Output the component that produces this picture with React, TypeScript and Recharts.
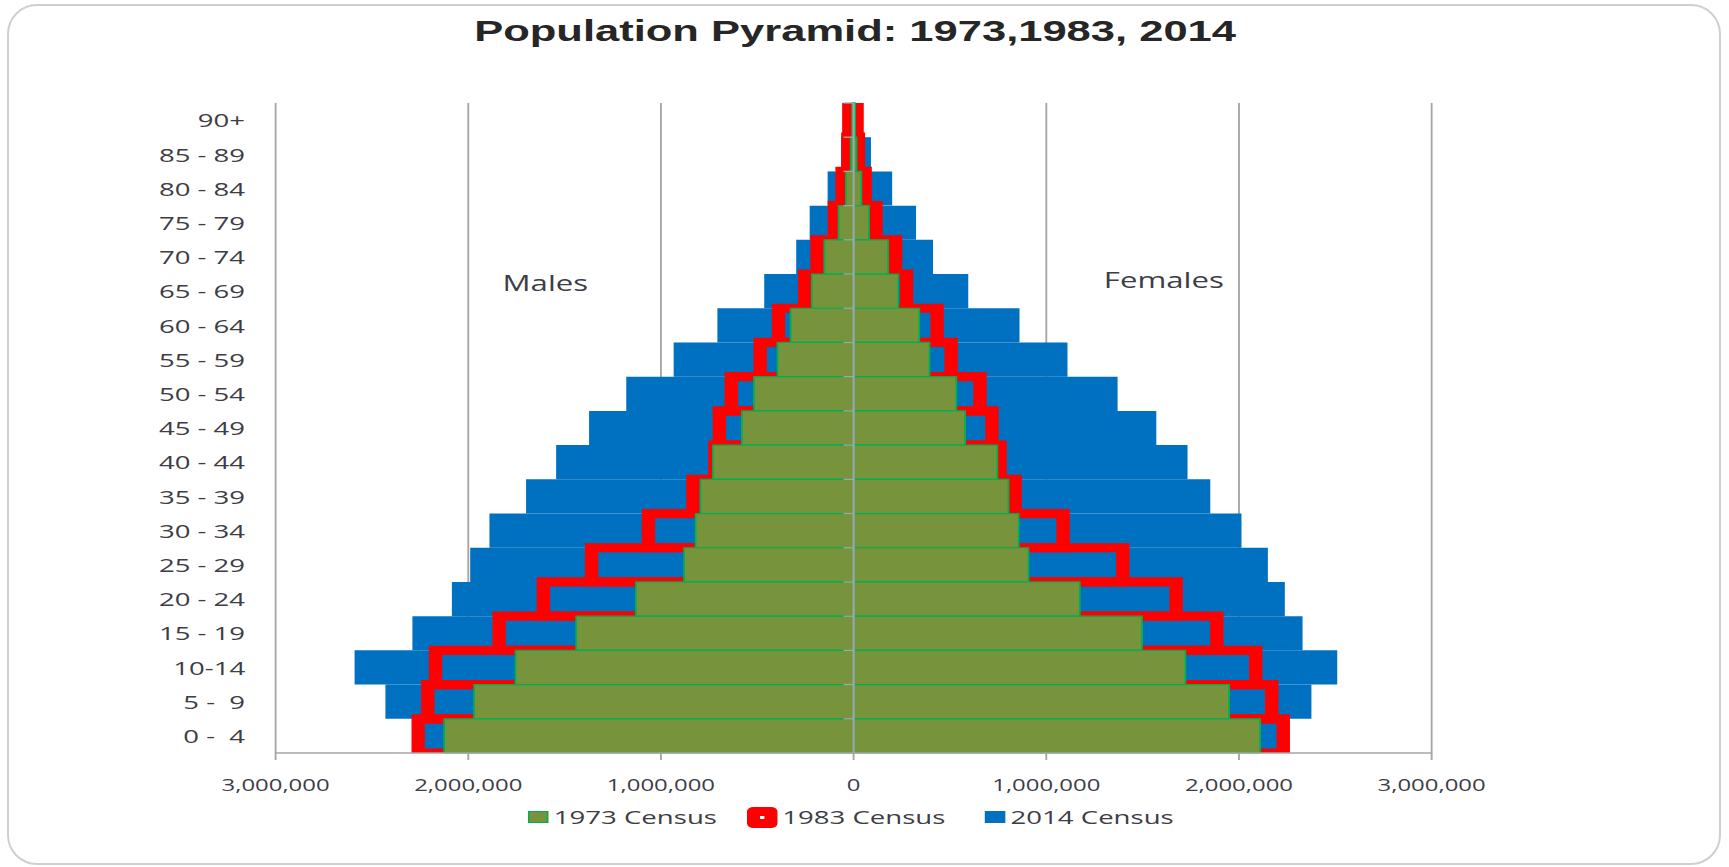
import React from "react";
import {
  Bar,
  BarChart,
  CartesianGrid,
  ReferenceDot,
  ReferenceLine,
  XAxis,
  YAxis,
} from "recharts";

const ages = [
  "90+", "85 - 89", "80 - 84", "75 - 79", "70 - 74", "65 - 69", "60 - 64",
  "55 - 59", "50 - 54", "45 - 49", "40 - 44", "35 - 39", "30 - 34", "25 - 29",
  "20 - 24", "15 - 19", "10-14", "5 -  9", "0 -  4",
];

const male1973 = [8000, 15000, 40000, 78000, 152000, 217000, 327000, 395000, 517000, 580000, 730000, 795000, 820000, 880000, 1130000, 1440000, 1755000, 1970000, 2125000];
const male1983 = [25000, 30000, 60000, 100000, 190000, 254000, 390000, 485000, 635000, 697000, 720000, 834000, 1065000, 1360000, 1610000, 1840000, 2170000, 2210000, 2260000];
const male2014 = [20000, 65000, 135000, 228000, 298000, 464000, 707000, 934000, 1180000, 1373000, 1544000, 1700000, 1890000, 1990000, 2085000, 2290000, 2590000, 2430000, 2250000];

const female1973 = [8000, 15000, 40000, 80000, 179000, 232000, 341000, 394000, 533000, 579000, 746000, 804000, 857000, 908000, 1174000, 1497000, 1722000, 1949000, 2110000];
const female1983 = [18000, 25000, 60000, 116000, 218000, 275000, 433000, 506000, 656000, 718000, 760000, 838000, 1087000, 1397000, 1674000, 1885000, 2087000, 2170000, 2230000];
const female2014 = [30000, 90000, 200000, 324000, 412000, 595000, 861000, 1110000, 1370000, 1571000, 1733000, 1851000, 2013000, 2150000, 2238000, 2330000, 2510000, 2376000, 2200000];

const xTicks = [-3000000, -2000000, -1000000, 0, 1000000, 2000000, 3000000];

// males go left, so they are negative
const data = ages.map((age, i) => ({
  age,
  m1973: -male1973[i],
  f1973: female1973[i],
  m1983: -male1983[i],
  f1983: female1983[i],
  m2014: -male2014[i],
  f2014: female2014[i],
}));

// the original picture is stretched sideways, so draw narrow and scale it
const W = 1192;
const H = 867;
const SX = 1729 / W;
const MARGIN = { top: 103, right: 205, bottom: 84, left: 70 };
const Y_W = 120;
const PLOT_W = W - MARGIN.left - Y_W - MARGIN.right;
const PLOT_H = H - MARGIN.top - MARGIN.bottom - 30;
const CX = MARGIN.left + Y_W + PLOT_W / 2;
const BAND = PLOT_H / ages.length;
const BAR = BAND - 0.01;

const FONT = "'Open Sans', 'Noto Sans', sans-serif";
const TEXT = "#3d3d46";
const GRID = "#a6a6a6";

const AgeTick = (props: any) => {
  const { x, y, payload } = props;
  return (
    <g>
      <text
        x={x}
        y={y}
        textAnchor="end"
        dominantBaseline="central"
        fill={TEXT}
        fontSize={19}
        fontFamily={FONT}
        style={{ whiteSpace: "pre" }}
      >
        {payload.value}
      </text>
      <line
        x1={CX - 7}
        x2={CX}
        y1={y - BAND / 2}
        y2={y - BAND / 2}
        stroke={GRID}
        strokeWidth={1.3}
      />
    </g>
  );
};

const LegendBox = ({ kind }: { kind: string }) => {
  if (kind === "1983") {
    return (
      <svg width={23} height={23} style={{ marginRight: 2 }}>
        <rect x={5.5} y={5.5} width={12} height={12} fill="none" stroke="#ff0000" strokeWidth={9} strokeLinejoin="round" />
      </svg>
    );
  }
  const fill = kind === "1973" ? "#77933c" : "#0070c0";
  const border = kind === "1973" ? "#00b050" : "#0070c0";
  return (
    <span
      style={{
        display: "inline-block",
        width: 14,
        height: 12,
        boxSizing: "border-box",
        background: fill,
        border: `1px solid ${border}`,
        marginRight: 4,
      }}
    />
  );
};

export default function App() {
  return (
    <div style={{ position: "absolute", left: 0, top: 0, width: 1729, height: 867, background: "#fff" }}>
      <div
        style={{
          position: "absolute",
          left: 7,
          top: 4,
          width: 1714,
          height: 861,
          boxSizing: "border-box",
          border: "2px solid #cfcfcf",
          borderRadius: 30,
        }}
      />
      <div
        style={{
          position: "absolute",
          left: 0,
          top: 0,
          width: W,
          height: H,
          transform: `scaleX(${SX})`,
          transformOrigin: "0 0",
        }}
      >
        <div
          style={{
            position: "absolute",
            left: 0,
            top: 16,
            width: 2 * CX + 2,
            textAlign: "center",
            fontFamily: "'Liberation Sans', Arial, sans-serif",
            fontWeight: "bold",
            fontSize: 30,
            lineHeight: "30px",
            color: "#262626",
          }}
        >
          Population Pyramid: 1973,1983, 2014
        </div>

        <BarChart
          width={W}
          height={H}
          data={data}
          layout="vertical"
          margin={MARGIN}
          barCategoryGap={0}
          barGap={0}
          stackOffset="sign"
        >
          <CartesianGrid yAxisId="a" horizontal={false} stroke={GRID} strokeWidth={1.3} />
          <XAxis
            type="number"
            domain={[-3000000, 3000000]}
            allowDataOverflow
            ticks={xTicks}
            interval={0}
            tickSize={7}
            tickMargin={19}
            axisLine={{ stroke: GRID, strokeWidth: 1.3 }}
            tickLine={{ stroke: GRID, strokeWidth: 1.3 }}
            tick={{ fill: TEXT, fontSize: 16.5, fontFamily: FONT }}
            tickFormatter={(v: number) => Math.abs(v).toLocaleString("en-US")}
          />
          <YAxis
            yAxisId="a"
            type="category"
            dataKey="age"
            width={Y_W}
            interval={0}
            axisLine={false}
            tickLine={false}
            tickSize={0}
            tickMargin={21}
            tick={<AgeTick />}
          />
          <YAxis yAxisId="b" type="category" dataKey="age" allowDataOverflow hide />
          <YAxis yAxisId="c" type="category" dataKey="age" hide />

          <Bar yAxisId="c" dataKey="m2014" stackId="s2014" barSize={BAR} fill="#0070c0" isAnimationActive={false} />
          <Bar yAxisId="c" dataKey="f2014" stackId="s2014" barSize={BAR} fill="#0070c0" isAnimationActive={false} />

          <Bar yAxisId="b" dataKey="m1983" stackId="s1983" barSize={BAR} fill="none" stroke="#ff0000" strokeWidth={9.2} isAnimationActive={false} />
          <Bar yAxisId="b" dataKey="f1983" stackId="s1983" barSize={BAR} fill="none" stroke="#ff0000" strokeWidth={9.2} isAnimationActive={false} />

          <Bar yAxisId="a" dataKey="m1973" stackId="s1973" barSize={BAR} fill="#77933c" stroke="#00b050" strokeWidth={1.2} isAnimationActive={false} />
          <Bar yAxisId="a" dataKey="f1973" stackId="s1973" barSize={BAR} fill="#77933c" stroke="#00b050" strokeWidth={1.2} isAnimationActive={false} />

          <ReferenceLine yAxisId="a" x={0} stroke={GRID} strokeWidth={1.5} />

          <ReferenceDot
            yAxisId="a"
            x={-1600000}
            y="65 - 69"
            r={0}
            label={{ value: "Males", position: "top", offset: 0, fill: TEXT, fontSize: 21.5, fontFamily: FONT }}
          />
          <ReferenceDot
            yAxisId="a"
            x={1610000}
            y="65 - 69"
            r={0}
            label={{ value: "Females", position: "top", offset: 3, fill: TEXT, fontSize: 21.5, fontFamily: FONT }}
          />
        </BarChart>

        <div
          style={{
            position: "absolute",
            left: 0,
            top: 805,
            width: 2 * CX - 4,
            height: 24,
            display: "flex",
            alignItems: "center",
            justifyContent: "center",
            fontFamily: FONT,
            fontSize: 19,
            color: TEXT,
          }}
        >
          <LegendBox kind="1973" />
          <span>1973 Census</span>
          <span style={{ width: 20 }} />
          <LegendBox kind="1983" />
          <span>1983 Census</span>
          <span style={{ width: 27 }} />
          <LegendBox kind="2014" />
          <span>2014 Census</span>
        </div>
      </div>
    </div>
  );
}
